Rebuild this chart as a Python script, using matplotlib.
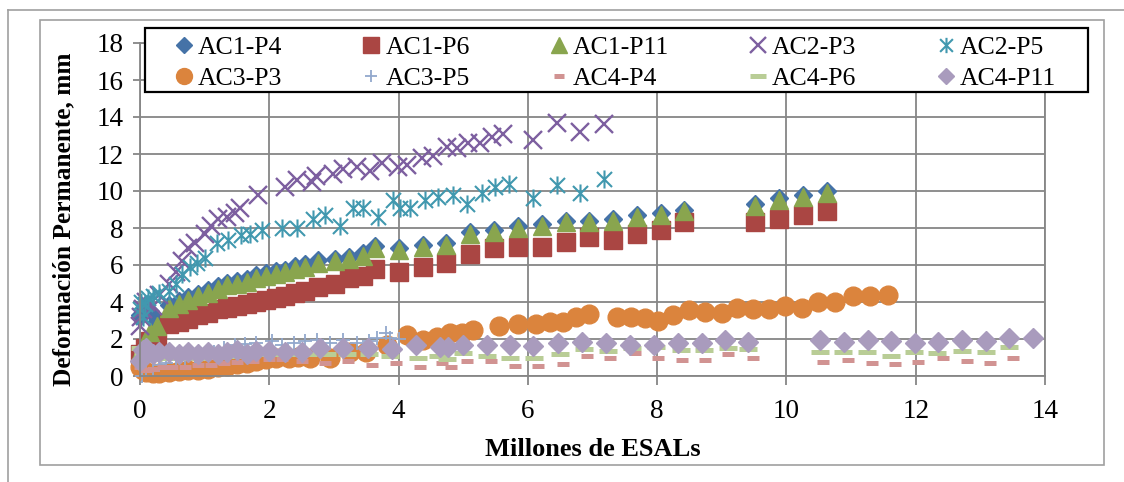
import numpy as np
import matplotlib
matplotlib.use("Agg")
import matplotlib.pyplot as plt
from matplotlib.path import Path
from matplotlib.patches import Rectangle
from matplotlib.lines import Line2D

plt.rcParams['font.family'] = ['Liberation Serif', 'DejaVu Serif']

# ---- data ----
ac1_x = [0.0, 0.08, 0.16, 0.26,
         0.45, 0.6, 0.75, 0.9, 1.05, 1.2, 1.35, 1.5, 1.65, 1.8, 1.95, 2.1, 2.25, 2.4, 2.55, 2.76, 3.02, 3.24, 3.45, 3.64,
         4.0, 4.38, 4.73, 5.1, 5.48, 5.85, 6.22, 6.59, 6.95, 7.32, 7.69, 8.06, 8.42, 9.51, 9.88, 10.25, 10.62]
ac1_p4 = [3.3, 3.7, 3.5, 3.0,
          3.85, 4.05, 4.25, 4.45, 4.65, 4.85, 5.05, 5.15, 5.25, 5.45, 5.55, 5.65, 5.75, 5.95, 6.05, 6.25, 6.35, 6.45, 6.65, 7.05,
          6.9, 7.1, 7.2, 7.8, 7.9, 8.1, 8.2, 8.4, 8.4, 8.5, 8.7, 8.8, 9.0, 9.3, 9.6, 9.8, 10.0]
ac1_p6 = [1.2, 1.5, 1.9, 2.1,
          2.8, 2.9, 3.1, 3.3, 3.4, 3.6, 3.7, 3.8, 3.9, 4.0, 4.1, 4.2, 4.3, 4.5, 4.6, 4.8, 5.0, 5.3, 5.4, 5.8,
          5.6, 5.9, 6.1, 6.6, 6.9, 7.0, 7.0, 7.25, 7.5, 7.35, 7.7, 7.9, 8.3, 8.3, 8.5, 8.7, 8.9]
ac1_p11 = [1.3, 1.9, 2.4, 2.7,
           3.7, 3.9, 4.1, 4.3, 4.5, 4.7, 4.9, 5.0, 5.1, 5.3, 5.4, 5.5, 5.6, 5.8, 5.9, 6.1, 6.2, 6.3, 6.5, 6.9,
           6.8, 7.0, 7.1, 7.7, 7.8, 8.0, 8.1, 8.3, 8.3, 8.4, 8.6, 8.7, 8.9, 9.2, 9.5, 9.7, 9.9]

ac2_p3_x = [0.0, 0.02, 0.05, 0.1, 0.2, 0.3, 0.45, 0.55, 0.65, 0.75, 0.85, 1.0, 1.1, 1.2, 1.35, 1.47, 1.55, 1.83,
            2.24, 2.43, 2.66, 2.73, 2.98, 3.14, 3.35, 3.56, 3.74, 3.99, 4.13, 4.36, 4.53, 4.75, 4.9, 5.08, 5.26,
            5.44, 5.62, 6.08, 6.45, 6.81, 7.18]
ac2_p3 = [2.7, 3.2, 3.6, 4.0, 3.8, 4.4, 5.0, 5.6, 6.2, 6.9, 7.2, 7.7, 8.1, 8.5, 8.6, 8.8, 9.1, 9.8,
          10.2, 10.6, 10.5, 10.8, 10.9, 11.2, 11.3, 11.1, 11.5, 11.3, 11.4, 11.8, 11.9, 12.4, 12.3, 12.6, 12.6,
          12.9, 13.1, 12.75, 13.7, 13.2, 13.6]

ac2_p5_x = [0.0, 0.02, 0.05, 0.08, 0.12, 0.2, 0.3, 0.45, 0.55, 0.65, 0.78, 0.88, 1.0, 1.19, 1.36, 1.57, 1.7, 1.89,
            2.2, 2.43, 2.68, 2.86, 3.09, 3.3, 3.45, 3.68, 3.91, 4.02, 4.18, 4.41, 4.61, 4.84, 5.06, 5.29, 5.49,
            5.71, 6.08, 6.45, 6.81, 7.18]
ac2_p5 = [3.6, 4.0, 3.2, 3.9, 4.2, 4.3, 4.5, 4.6, 5.0, 5.5, 5.9, 6.1, 6.4, 7.2, 7.35, 7.6, 7.7, 7.9,
          8.0, 8.0, 8.5, 8.7, 8.1, 9.1, 9.1, 8.6, 9.5, 9.1, 9.1, 9.5, 9.7, 9.8, 9.3, 9.9, 10.2,
          10.4, 9.6, 10.3, 9.9, 10.65]

ac3_p3_x = [0.0, 0.05, 0.1, 0.2, 0.3, 0.45, 0.6, 0.75, 0.9, 1.05, 1.2, 1.35, 1.5, 1.65, 1.8, 1.95, 2.1, 2.3, 2.45,
            2.63, 2.94, 3.25, 3.5, 3.82, 4.13, 4.38, 4.6, 4.8, 4.98, 5.15, 5.55, 5.85, 6.12, 6.34, 6.55, 6.75, 6.95,
            7.38, 7.6, 7.81, 8.01, 8.25, 8.5, 8.74, 9.0, 9.23, 9.48, 9.73, 9.98, 10.24, 10.49, 10.75, 11.03,
            11.29, 11.57]
ac3_p3 = [0.5, 0.3, 0.2, 0.15, 0.15, 0.2, 0.25, 0.3, 0.35, 0.4, 0.5, 0.55, 0.65, 0.7, 0.8, 0.9, 0.95, 1.0, 1.05,
          1.0, 1.0, 1.3, 1.3, 1.65, 2.2, 1.95, 2.1, 2.3, 2.3, 2.5, 2.7, 2.8, 2.8, 2.9, 2.9, 3.2, 3.35,
          3.2, 3.2, 3.15, 2.95, 3.3, 3.55, 3.46, 3.4, 3.7, 3.6, 3.6, 3.8, 3.7, 4.0, 4.0, 4.3,
          4.3, 4.4]

ac3_p5_x = [0.03, 0.1, 0.2, 0.3, 0.4, 0.55, 0.7, 0.85, 1.0, 1.15, 1.3, 1.47, 1.62, 1.8, 2.04, 2.2, 2.38, 2.55,
            2.74, 2.94, 3.14, 3.35, 3.55, 3.66, 3.8, 3.87, 4.0]
ac3_p5 = [0.0, 0.3, 0.4, 0.6, 0.7, 0.9, 1.0, 1.1, 1.2, 1.3, 1.5, 1.7, 1.75, 1.8, 1.9, 1.7, 1.8, 1.9,
          1.95, 1.8, 1.95, 1.8, 1.9, 2.05, 2.3, 2.05, 2.0]

ac4_p4_x = [0.0, 0.1, 0.2, 0.35, 0.5, 0.7, 0.9, 1.1, 1.3, 1.5, 1.75, 2.0, 2.2, 2.5, 2.86, 3.22, 3.59, 3.96, 4.33,
            4.67, 4.81, 5.06, 5.43, 5.8, 6.16, 6.54, 6.91, 7.27, 7.66, 8.01, 8.38, 8.74, 9.1, 9.48, 10.57, 10.95,
            11.33, 11.68, 12.04, 12.42, 12.79, 13.15, 13.5]
ac4_p4 = [0.5, 0.3, 0.4, 0.5, 0.5, 0.5, 0.6, 0.6, 0.7, 0.75, 0.8, 0.9, 0.9, 0.8, 0.7, 0.8, 0.6, 0.7, 0.5,
          0.7, 0.5, 0.8, 0.8, 0.55, 0.55, 0.65, 1.1, 1.0, 1.25, 1.0, 0.85, 0.85, 1.2, 0.95, 0.75, 0.85,
          0.7, 0.65, 0.75, 1.0, 0.8, 0.7, 1.0]

ac4_p6_x = [0.0, 0.05, 0.1, 0.2, 0.35, 0.5, 0.7, 0.9, 1.1, 1.3, 1.5, 1.7, 1.9, 2.1, 2.35, 2.6, 2.9, 3.2, 3.55,
            3.87, 4.3, 4.61, 4.75, 5.0, 5.37, 5.72, 6.1, 6.5, 6.87, 7.24, 7.61, 7.98, 8.37, 8.72, 9.1, 9.4,
            10.52, 10.88, 11.24, 11.62, 11.97, 12.33, 12.71, 13.08, 13.44]
ac4_p6 = [1.5, 1.2, 1.0, 0.9, 1.0, 1.0, 1.0, 1.0, 1.1, 1.1, 1.1, 1.2, 1.2, 1.2, 1.2, 1.2, 1.2, 1.2, 1.2,
          1.1, 1.0, 1.1, 0.9, 1.25, 1.1, 1.0, 1.0, 1.2, 1.45, 1.35, 1.5, 1.55, 1.4, 1.4, 1.5, 1.45,
          1.3, 1.3, 1.3, 1.1, 1.3, 1.25, 1.35, 1.3, 1.55]

ac4_p11_x = [0.0, 0.05, 0.1, 0.2, 0.3, 0.45, 0.6, 0.75, 0.9, 1.05, 1.2, 1.35, 1.5, 1.65, 1.8, 2.0, 2.25, 2.5,
             2.78, 3.14, 3.53, 3.9, 4.27, 4.64, 4.77, 5.0, 5.37, 5.72, 6.08, 6.46, 6.84, 7.21, 7.58, 7.95, 8.32,
             8.69, 9.05, 9.4, 10.52, 10.89, 11.26, 11.62, 11.99, 12.34, 12.71, 13.08, 13.44, 13.81]
ac4_p11 = [0.8, 1.4, 1.5, 1.2, 1.3, 1.3, 1.2, 1.3, 1.2, 1.3, 1.2, 1.3, 1.4, 1.2, 1.35, 1.35, 1.3, 1.3,
           1.5, 1.5, 1.5, 1.45, 1.7, 1.55, 1.55, 1.7, 1.7, 1.65, 1.6, 1.8, 1.85, 1.8, 1.7, 1.7, 1.8,
           1.8, 1.95, 1.85, 1.95, 1.85, 1.95, 1.9, 1.8, 1.85, 1.95, 1.9, 2.05, 2.05]

x_ticks = [0, 2, 4, 6, 8, 10, 12, 14]
y_ticks = [0, 2, 4, 6, 8, 10, 12, 14, 16, 18]

# excel style asterisk: X plus a vertical bar
asterisk = Path([(-0.5, -0.5), (0.5, 0.5), (-0.5, 0.5), (0.5, -0.5), (0, -0.6), (0, 0.6)],
                [Path.MOVETO, Path.LINETO, Path.MOVETO, Path.LINETO, Path.MOVETO, Path.LINETO])

W, H = 1124, 482
fig = plt.figure(figsize=(W / 100, H / 100), dpi=100)
ax = fig.add_axes([140 / W, 1 - 376 / H, 905 / W, 333 / H])

grey = '#868686'
kw = dict(ls='none', clip_on=False)
ax.plot(ac1_x, ac1_p4, marker='D', ms=9, color='#4572A7', mec='#4572A7', label='AC1-P4', **kw)
ax.plot(ac1_x, ac1_p6, marker='s', ms=13, color='#AA4643', mec='#AA4643', label='AC1-P6', **kw)
ax.plot(ac1_x, ac1_p11, marker='^', ms=13, color='#89A54E', mec='#89A54E', label='AC1-P11', **kw)
ax.plot(ac2_p3_x, ac2_p3, marker='x', ms=13, mew=1.7, color='#7D5FA0', label='AC2-P3', **kw)
ax.plot(ac2_p5_x, ac2_p5, marker=asterisk, ms=13, mew=1.5, color='#4198AF', label='AC2-P5', **kw)
ax.plot(ac3_p3_x, ac3_p3, marker='o', ms=13.5, color='#DB843D', mec='#DB843D', label='AC3-P3', **kw)
ax.plot(ac3_p5_x, ac3_p5, marker='+', ms=10, mew=1.3, color='#92A8CD', label='AC3-P5', **kw)
ax.plot(ac4_p4_x, ac4_p4, marker='_', ms=8.5, mew=3.6, color='#D19392', label='AC4-P4', **kw)
ax.plot(ac4_p6_x, ac4_p6, marker='_', ms=13, mew=3.6, color='#B9CD96', label='AC4-P6', **kw)
ax.plot(ac4_p11_x, ac4_p11, marker='D', ms=10, color='#A99BBD', mec='#A99BBD', label='AC4-P11', **kw)

ax.set_xlim(0, 14)
ax.set_ylim(0, 18)
ax.set_xticks(x_ticks)
ax.set_yticks(y_ticks)
ax.grid(True, color=grey, lw=1.3)
ax.set_axisbelow(True)
for s in ax.spines.values():
    s.set_color(grey)
    s.set_linewidth(1.3)
ax.tick_params(axis='x', direction='out', length=6.5, width=1.3, color=grey, labelsize=19.5, pad=10)
ax.tick_params(axis='y', direction='out', length=5, width=1.3, color=grey, labelsize=19.5, pad=7)

ax.set_xlabel('Millones de ESALs', fontsize=19, fontweight='bold', labelpad=10)
ax.set_ylabel('Deformación Permanente, mm', fontsize=18.3, fontweight='bold')
ax.yaxis.set_label_coords(-0.072, 0.47)

# legend box
fig.add_artist(Rectangle((145 / W, 1 - 92 / H), 943 / W, 64 / H, transform=fig.transFigure,
                         fc='white', ec='black', lw=1.6, zorder=5))

# legend: 2 rows x 5 cols, filled row by row
handles, labels = ax.get_legend_handles_labels()
order = [0, 5, 1, 6, 2, 7, 3, 8, 4, 9]
leg = fig.legend([handles[i] for i in order], [labels[i] for i in order],
                 loc='upper left', bbox_to_anchor=(176 / W, 1 - 92 / H, 880 / W, 56 / H),
                 mode='expand', ncol=5, frameon=False, fontsize=18.5,
                 handlelength=0.6, handletextpad=0.25, borderpad=0, borderaxespad=0,
                 labelspacing=0.3, markerscale=0.85)
leg.set_zorder(6)

# frames around the chart
fig.add_artist(Rectangle((40 / W, 1 - 465 / H), 1064 / W, 445 / H, transform=fig.transFigure,
                         fill=False, ec='#a0a0a0', lw=1.2))
fig.add_artist(Line2D([8 / W, 8 / W], [0, 1 - 10 / H], transform=fig.transFigure, color='#a0a0a0', lw=1.2))
fig.add_artist(Line2D([8 / W, 1], [1 - 10 / H, 1 - 10 / H], transform=fig.transFigure, color='#a0a0a0', lw=1.2))

fig.savefig('out.png', dpi=100)
